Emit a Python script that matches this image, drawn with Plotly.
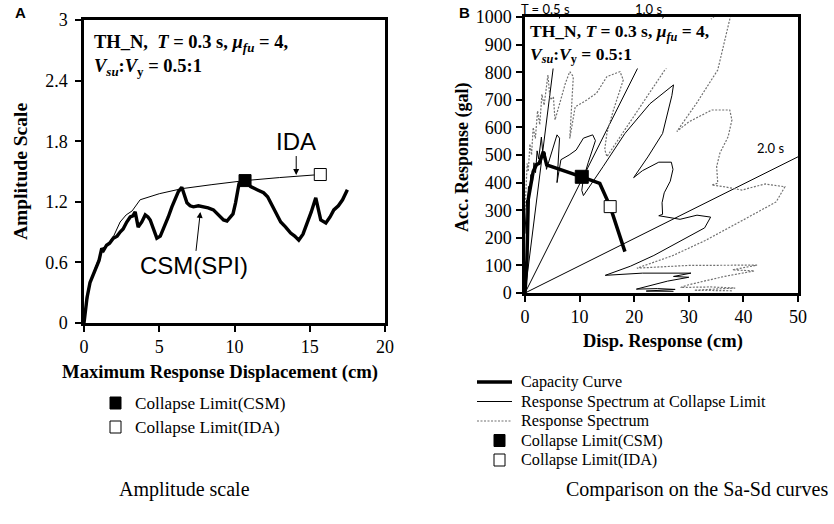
import math
import plotly.graph_objects as go

W, H = 834, 524

# ---------------- Panel A data ----------------
ida_x = [0, 0.2, 0.4, 0.7, 1.07, 1.5, 2.0, 2.4, 2.8, 3.2, 3.73, 5.0, 6.5, 8.5, 10.7, 13.0, 15.7]
ida_y = [0, 0.22, 0.40, 0.53, 0.67, 0.76, 0.87, 1.00, 1.07, 1.11, 1.22, 1.28, 1.33, 1.37, 1.41, 1.44, 1.47]

csm_x = [0, 0.1, 0.2, 0.4, 0.73, 1.0, 1.18, 1.3, 1.5, 1.7, 1.95, 2.2, 2.4, 2.6, 2.84, 3.07, 3.25, 3.4, 3.6,
         3.84, 4.07, 4.25, 4.4, 4.6, 4.84, 5.07, 5.25, 5.4, 5.6, 5.84, 6.05, 6.27, 6.5, 6.7, 6.84, 7.05, 7.27,
         7.6, 7.93, 8.25, 8.6, 8.95, 9.27, 9.5, 9.7, 9.9, 10.07, 10.3, 10.7, 11.07, 11.5, 11.93, 12.2, 12.4,
         12.75, 13.07, 13.4, 13.73, 14.0, 14.27, 14.55, 14.84, 15.1, 15.4, 15.73, 16.07, 16.35, 16.6, 16.9,
         17.18, 17.5]
csm_y = [0, 0.12, 0.25, 0.40, 0.52, 0.62, 0.74, 0.72, 0.77, 0.79, 0.84, 0.86, 0.90, 0.93, 1.00, 1.05, 1.06,
         1.10, 0.95, 1.00, 1.07, 1.05, 1.02, 0.93, 0.84, 0.86, 0.92, 0.99, 1.05, 1.15, 1.22, 1.30, 1.345, 1.25,
         1.19, 1.16, 1.15, 1.16, 1.15, 1.14, 1.12, 1.07, 1.02, 1.01, 1.04, 1.08, 1.19, 1.38, 1.41, 1.35, 1.32,
         1.29, 1.25, 1.19, 1.10, 1.00, 0.95, 0.89, 0.86, 0.82, 0.88, 0.99, 1.10, 1.24, 1.02, 0.99, 1.05,
         1.12, 1.16, 1.22, 1.32]

a_csm_pt = (10.7, 1.41)
a_ida_pt = (15.7, 1.47)

a_xticks = [0, 5, 10, 15, 20]
a_yticks = [0, 0.6, 1.2, 1.8, 2.4, 3]
a_yticktext = ["0", "0.6", "1.2", "1.8", "2.4", "3"]

# ---------------- Panel B data ----------------
cap_x = [0, 0.35, 0.6, 1.0, 1.5, 2.1, 2.6, 3.36, 3.97, 10.4, 13.7, 15.6, 18.3]
cap_y = [0, 120, 340, 390, 440, 465, 470, 512, 464, 421, 397, 313, 150]

b_csm_pt = (10.4, 421)
b_ida_pt = (15.6, 313)

periods = [0.5, 1.0, 2.0]

# response spectrum (dotted)
rs_x = [0.0, 0.2, 0.4, 0.6, 0.9, 1.2, 1.5, 1.9, 2.3, 2.7, 3.1, 3.5, 4.2, 4.6, 5.2, 5.5, 6.4, 7.4, 8.2,
        8.85, 8.2, 9.2, 11.3, 13.1, 15.0, 17.4, 18.0, 16.2, 15.0, 14.6, 15.0, 20.0, 25.6, 32.0, 38.0,
        37.6, 35.3, 31.5, 27.8, 30.0, 34.2, 37.5, 37.9, 37.2, 35.7, 35.1, 35.3, 34.2, 36.5, 39.7, 44.0,
        47.6, 46.0, 40.0, 33.0, 27.0, 20.5, 30.0, 42.5, 38.0, 42.0, 36.5, 30.0, 28.5, 34.0, 38.5, 31.0, 38.0]
rs_y = [300, 380, 470, 440, 540, 500, 600, 560, 660, 610, 720, 680, 790, 700, 711, 627, 687, 760, 802,
        784, 560, 675, 699, 724, 784, 802, 772, 663, 579, 520, 494, 640, 808, 960, 1055,
        1000, 808, 690, 585, 620, 663, 663, 627, 566, 507, 458, 398, 391, 385, 373, 395,
        385, 330, 265, 190, 135, 90, 100, 101, 84, 80, 60, 30, 20, 22, 18, 10, 8]

# response spectrum at collapse limit (thin solid)
rc_x = [0.0, 0.14, 0.29, 0.43, 0.64, 0.86, 1.07, 1.36, 1.64, 1.93, 2.22, 2.5, 3.0, 3.29, 3.72, 3.93, 4.58,
        5.29, 5.86, 6.33, 5.86, 6.58, 8.08, 9.37, 10.7, 12.4, 12.9, 11.6, 10.7, 10.4, 10.7, 14.3, 18.3,
        22.9, 27.2, 26.9, 25.2, 22.5, 19.9, 21.5, 24.5, 26.8, 27.1, 26.6, 25.5, 25.1, 25.2, 24.5, 26.1,
        28.4, 31.5, 34.0, 32.9, 28.6, 23.6, 19.3, 14.7, 21.5, 30.4, 27.2, 30.0, 26.1, 21.5, 20.4, 24.3,
        27.5, 22.2, 27.2]
rc_y = [215, 272, 336, 315, 386, 358, 429, 400, 472, 436, 515, 486, 565, 501, 508, 448, 491,
        543, 573, 561, 400, 483, 500, 518, 561, 573, 552, 474, 414, 372, 353, 458, 578,
        686, 754, 715, 578, 493, 418, 443, 474, 474, 448, 405, 363, 327, 285, 280, 275,
        267, 282, 275, 236, 189, 136, 97, 64, 72, 72, 60, 57, 43, 21, 14, 16,
        13, 7, 6]

b_xticks = [0, 10, 20, 30, 40, 50]
b_yticks = [0, 100, 200, 300, 400, 500, 600, 700, 800, 900, 1000]

SERIF = "Liberation Serif"
SANS = "Liberation Sans"
DOT_COLOR = "#707070"
DOT_DASH = "2px,1.5px"


def px(x):
    return x / W


def py(y):
    return 1 - y / H


fig = go.Figure()

# ---- Panel A traces
fig.add_trace(go.Scatter(x=ida_x, y=ida_y, mode="lines", line=dict(color="black", width=1),
                         xaxis="x", yaxis="y", showlegend=False, hoverinfo="skip"))
fig.add_trace(go.Scatter(x=csm_x, y=csm_y, mode="lines", line=dict(color="black", width=3.4),
                         xaxis="x", yaxis="y", showlegend=False, hoverinfo="skip"))
fig.add_trace(go.Scatter(x=[a_csm_pt[0]], y=[a_csm_pt[1]], mode="markers",
                         marker=dict(symbol="square", size=12, color="black", line=dict(color="black", width=1)),
                         xaxis="x", yaxis="y", showlegend=False))
fig.add_trace(go.Scatter(x=[a_ida_pt[0]], y=[a_ida_pt[1]], mode="markers",
                         marker=dict(symbol="square", size=12, color="white", line=dict(color="black", width=1)),
                         xaxis="x", yaxis="y", showlegend=False))

# ---- Panel B traces
for T in periods:
    w2 = (2 * math.pi / T) ** 2
    sd_end = min(50.0, 1000.0 / w2)
    fig.add_trace(go.Scatter(x=[0, sd_end], y=[0, w2 * sd_end], mode="lines",
                             line=dict(color="black", width=1), xaxis="x2", yaxis="y2",
                             showlegend=False, hoverinfo="skip"))
fig.add_trace(go.Scatter(x=rs_x, y=rs_y, mode="lines", line=dict(color=DOT_COLOR, width=1.2, dash=DOT_DASH),
                         xaxis="x2", yaxis="y2", showlegend=False, hoverinfo="skip"))
fig.add_trace(go.Scatter(x=rc_x, y=rc_y, mode="lines", line=dict(color="black", width=1),
                         xaxis="x2", yaxis="y2", showlegend=False, hoverinfo="skip"))
fig.add_trace(go.Scatter(x=cap_x, y=cap_y, mode="lines", line=dict(color="black", width=3.5),
                         xaxis="x2", yaxis="y2", showlegend=False, hoverinfo="skip"))
fig.add_trace(go.Scatter(x=[b_csm_pt[0]], y=[b_csm_pt[1]], mode="markers",
                         marker=dict(symbol="square", size=13, color="black", line=dict(color="black", width=1)),
                         xaxis="x2", yaxis="y2", showlegend=False))
fig.add_trace(go.Scatter(x=[b_ida_pt[0]], y=[b_ida_pt[1]], mode="markers",
                         marker=dict(symbol="square", size=12, color="white", line=dict(color="black", width=1)),
                         xaxis="x2", yaxis="y2", showlegend=False))

axis_common = dict(showgrid=False, zeroline=False, showline=True, linecolor="black", linewidth=2.5,
                   mirror=True, ticks="outside", ticklen=6, tickwidth=1.5, tickcolor="black",
                   tickfont=dict(family=SERIF, size=18, color="black"), automargin=False)

fig.update_layout(
    width=W, height=H, margin=dict(l=0, r=0, t=0, b=0),
    paper_bgcolor="white", plot_bgcolor="white", showlegend=False,
    xaxis=dict(domain=[px(84), px(385)], range=[0, 20], tickvals=a_xticks, anchor="y", **axis_common),
    yaxis=dict(domain=[py(323), py(20)], range=[0, 3], tickvals=a_yticks, ticktext=a_yticktext,
               anchor="x", ticklabelstandoff=4, **axis_common),
    xaxis2=dict(domain=[px(525), px(798)], range=[0, 50], tickvals=b_xticks, anchor="y2", **axis_common),
    yaxis2=dict(domain=[py(293), py(17)], range=[0, 1000], tickvals=b_yticks, anchor="x2",
                ticklabelstandoff=1, **axis_common),
)

ann = []


def text(x, y, s, size, family=SERIF, xanchor="center", yanchor="middle", angle=0, **kw):
    ann.append(dict(x=px(x), y=py(y), xref="paper", yref="paper", text=s, showarrow=False,
                    xanchor=xanchor, yanchor=yanchor, textangle=angle,
                    font=dict(family=family, size=size, color="black"), **kw))


# axis titles
text(20, 172, "<b>Amplitude Scale</b>", 19.5, angle=-90)
text(220, 372, "<b>Maximum Response Displacement (cm)</b>", 18.7)
text(462, 158, "<b>Acc. Response (gal)</b>", 18, angle=-90)
text(663, 341, "<b>Disp. Response (cm)</b>", 18.5)

# panel letters
text(20, 12, "<b>A</b>", 15, family=SANS)
text(464, 12, "<b>B</b>", 15, family=SANS)

# parameter boxes
NB = "\u00a0"
text(92, 30, "<b>TH_N," + NB + NB + "<i>T</i> = 0.3 s, <i>μ<sub>fu</sub></i> = 4,<br><i>V<sub>su</sub></i>:<i>V</i><sub>y</sub> = 0.5:1</b>",
     18.5, xanchor="left", yanchor="top", align="left")
text(527, 18, "<b>TH_N, <i>T</i> = 0.3 s, <i>μ<sub>fu</sub></i> = 4,<br><i>V<sub>su</sub></i>:<i>V</i><sub>y</sub> = 0.5:1</b>",
     17.5, xanchor="left", yanchor="top", align="left", bgcolor="white", borderpad=2)

# period labels
text(545, 9, "T = 0.5 s", 13, family="Lato")
text(648, 9, "1.0 s", 13, family="Lato")
text(770, 148, "2.0 s", 13, family="Lato")

# arrows with labels in panel A
ann.append(dict(x=14.1, y=1.465, xref="x", yref="y", text="IDA", showarrow=True, arrowhead=2,
                arrowsize=1.2, arrowwidth=1, arrowcolor="black", ax=0, ay=-34,
                font=dict(family=SANS, size=24, color="black")))
ann.append(dict(x=7.73, y=1.10, xref="x", yref="y", text="CSM(SPI)", showarrow=True, arrowhead=2,
                arrowsize=1.2, arrowwidth=1, arrowcolor="black", ax=-6, ay=54,
                font=dict(family=SANS, size=24, color="black")))

# legends (manual)
shapes = []
leg_a_rows = [(403, "Collapse Limit(CSM)", "black"), (427, "Collapse Limit(IDA)", "white")]
for y, label, fill in leg_a_rows:
    shapes.append(dict(type="rect", xref="paper", yref="paper", x0=px(110), x1=px(121),
                       y0=py(y + 6), y1=py(y - 6), fillcolor=fill, line=dict(color="black", width=1)))
    text(133, y, label, 17.2, xanchor="left")

leg_b = [
    (382, "Capacity Curve", ("line", 3.5, "solid", "black")),
    (401.5, "Response Spectrum at Collapse Limit", ("line", 1, "solid", "black")),
    (421, "Response Spectrum", ("line", 1.2, DOT_DASH, DOT_COLOR)),
    (440.5, "Collapse Limit(CSM)", ("rect", "black")),
    (460, "Collapse Limit(IDA)", ("rect", "white")),
]
for y, label, sym in leg_b:
    if sym[0] == "line":
        shapes.append(dict(type="line", xref="paper", yref="paper", x0=px(477), x1=px(512),
                           y0=py(y), y1=py(y), line=dict(color=sym[3], width=sym[1], dash=sym[2])))
    else:
        shapes.append(dict(type="rect", xref="paper", yref="paper", x0=px(494), x1=px(505),
                           y0=py(y + 6), y1=py(y - 6), fillcolor=sym[1], line=dict(color="black", width=1)))
    text(520, y, label, 16.2, xanchor="left", borderpad=0)

# captions
text(184, 489, "Amplitude scale", 20)
text(697, 489, "Comparison on the Sa-Sd curves", 20)

fig.update_layout(annotations=ann, shapes=shapes)
fig.write_html("out.html")
